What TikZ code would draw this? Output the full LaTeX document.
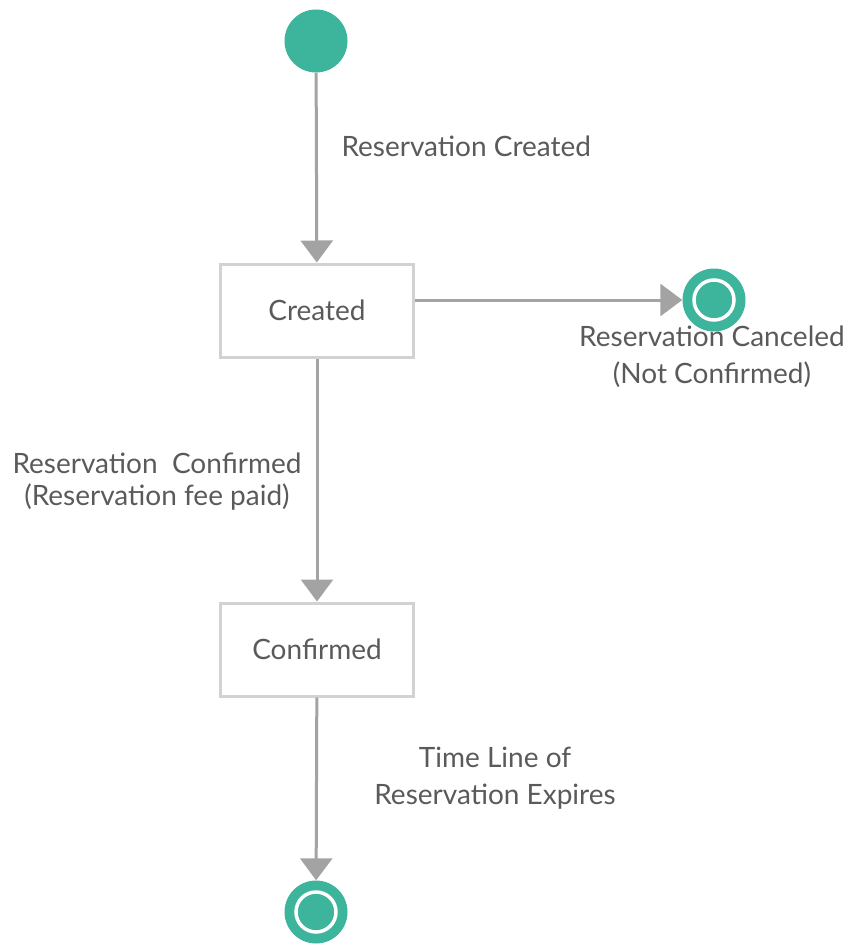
\documentclass[tikz,border=0pt]{standalone}
\usepackage{fontspec}
\setmainfont{Lato}
\usetikzlibrary{arrows.meta}
\definecolor{teal1}{HTML}{3DB59C}
\definecolor{txt}{HTML}{5A5A5A}
\definecolor{arr}{HTML}{A3A3A3}
\definecolor{boxc}{HTML}{D2D2D2}
\begin{document}
\begin{tikzpicture}[x=1pt,y=-1pt,
  state/.style={draw=boxc,line width=3pt,minimum width=193pt,minimum height=93pt,inner sep=0pt,font=\fontsize{28}{34}\selectfont,text=txt},
  initnode/.style={circle,fill=teal1,minimum size=63pt,inner sep=0pt},
  lbl/.style={font=\fontsize{28}{37}\selectfont,text=txt,align=center},
  conn/.style={draw=arr,line width=3pt,-{Triangle[length=22pt,width=32pt]}}]
\useasboundingbox (0,0) rectangle (849,944);
\node[initnode] (init) at (316,41) {};
\node[state] (created) at (317,310.5) {Created};
\node[state] (confirmed) at (317,649.5) {Confirmed};
% final nodes: outer green, white ring, inner green
\node[circle,fill=teal1,minimum size=63pt,inner sep=0pt] (end1) at (714,300) {};
\node[circle,draw=white,line width=3.5pt,fill=teal1,minimum size=40pt,inner sep=0pt] (end1in) at (end1) {};
\node[circle,fill=teal1,minimum size=63pt,inner sep=0pt] (end2) at (316,912) {};
\node[circle,draw=white,line width=3.5pt,fill=teal1,minimum size=40pt,inner sep=0pt] (end2in) at (end2) {};
\draw[conn] (init) -- (created);
\draw[conn] (created.east |- end1) -- (end1.west);
\draw[conn] (created) -- (confirmed);
\draw[conn] (confirmed) -- (end2);
\node[lbl,anchor=west] (l1) at (338,146) {Reservation Created};
\node[lbl] (l2) at (712,357) {Reservation Canceled\\(Not Confirmed)};
\node[lbl,font=\fontsize{28}{32}\selectfont] (l3) at (157,482) {Reservation\ \ Confirmed\\(Reservation fee paid)};
\node[lbl] (l4) at (495,778) {Time Line of\\Reservation Expires};
\end{tikzpicture}
\end{document}
